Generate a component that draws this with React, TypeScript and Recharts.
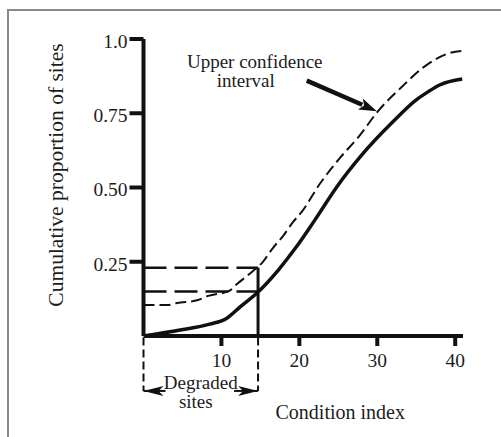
import React from 'react';
import { ComposedChart, Line, XAxis, YAxis, ReferenceLine, Label } from 'recharts';

// ---- data ----
const xTicks = [10, 20, 30, 40];
const yTicks = [0.25, 0.5, 0.75, 1.0];
const yTickLabels = ['0.25', '0.50', '0.75', '1.0'];

const cdfX = [0, 4.7, 8.5, 10.7, 12.4, 14.7, 17.3, 19.5, 22, 24.8, 27.8, 32, 35, 36.5, 38, 40.9];
const cdfY = [0, 0.02, 0.04, 0.06, 0.098, 0.148, 0.222, 0.296, 0.391, 0.502, 0.603, 0.721, 0.795, 0.822, 0.845, 0.865];

const upperX = [0, 3, 4.3, 7, 8.3, 11, 12, 14.2, 15.3, 16.6, 18, 19.2, 20.3, 22.7, 25, 27.8, 30, 33, 36, 39.3, 41];
const upperY = [0.104, 0.104, 0.111, 0.121, 0.135, 0.152, 0.175, 0.222, 0.249, 0.296, 0.34, 0.384, 0.418, 0.515, 0.593, 0.677, 0.754, 0.835, 0.906, 0.953, 0.96];

const threshold = 14.7;
const cdfAtThreshold = 0.15;
const upperAtThreshold = 0.23;
const bracketDepth = -0.185;

const arrowFrom = { x: 20.95, y: 0.86 };
const arrowTo = { x: 29.95, y: 0.757 };

const xLabel = 'Condition index';
const yLabel = 'Cumulative proportion of sites';
const noteLines = ['Upper confidence', 'interval'];
const bracketLines = ['Degraded', 'sites'];

const cdfData = cdfX.map((x, i) => ({ x, y: cdfY[i] }));
const upperData = upperX.map((x, i) => ({ x, y: upperY[i] }));

const FONT = '"Liberation Serif", "Times New Roman", Times, serif';
const INK = '#111';
const TEXT = '#1c1c1c';

const AnnotationArrow = (props: any) => {
  const { x1, y1, x2, y2 } = props;
  const dx = x2 - x1;
  const dy = y2 - y1;
  const len = Math.sqrt(dx * dx + dy * dy);
  const ux = dx / len;
  const uy = dy / len;
  const hl = 18;
  const hw = 6;
  const bx = x2 - ux * hl;
  const by = y2 - uy * hl;
  const px = -uy;
  const py = ux;
  return (
    <g>
      <line x1={x1} y1={y1} x2={bx + ux * 2} y2={by + uy * 2} stroke={INK} strokeWidth={4.5} />
      <polygon
        points={`${x2},${y2} ${bx + px * hw},${by + py * hw} ${bx + ux * 4},${by + uy * 4} ${bx - px * hw},${by - py * hw}`}
        fill={INK}
      />
      <text x={x1 - 52} y={y1 - 12.7} textAnchor="middle" fontFamily={FONT} fontSize={19} fill={TEXT}>
        {noteLines[0]}
      </text>
      <text x={x1 - 61} y={y1 + 6.3} textAnchor="middle" fontFamily={FONT} fontSize={19} fill={TEXT}>
        {noteLines[1]}
      </text>
    </g>
  );
};

const BracketArrows = (props: any) => {
  const { x1, y1, x2 } = props;
  const y = y1;
  const hl = 20;
  const hw = 5;
  const cx = (x1 + x2) / 2;
  return (
    <g>
      <line x1={x1} y1={y} x2={x1 + hl + 2} y2={y} stroke={INK} strokeWidth={2} />
      <polygon points={`${x1},${y} ${x1 + hl},${y - hw} ${x1 + hl - 5},${y} ${x1 + hl},${y + hw}`} fill={INK} />
      <line x1={x2 - hl - 4} y1={y} x2={x2} y2={y} stroke={INK} strokeWidth={2} />
      <polygon points={`${x2},${y} ${x2 - hl},${y - hw} ${x2 - hl + 5},${y} ${x2 - hl},${y + hw}`} fill={INK} />
      <text x={cx} y={y - 2} textAnchor="middle" fontFamily={FONT} fontSize={19} fill={TEXT}>
        {bracketLines[0]}
      </text>
      <text x={cx - 5} y={y + 17} textAnchor="middle" fontFamily={FONT} fontSize={19} fill={TEXT}>
        {bracketLines[1]}
      </text>
    </g>
  );
};

const YLabelContent = (props: any) => {
  const { viewBox } = props;
  const x = viewBox.x + 63;
  const y = 175;
  return (
    <text
      x={x}
      y={y}
      transform={`rotate(-90, ${x}, ${y})`}
      textAnchor="middle"
      fontFamily={FONT}
      fontSize={21.5}
      fill={TEXT}
    >
      {yLabel}
    </text>
  );
};

const XLabelContent = (props: any) => {
  const { viewBox } = props;
  const x = viewBox.x + viewBox.width / 2 + 37;
  const y = viewBox.y + 83;
  return (
    <text x={x} y={y} textAnchor="middle" fontFamily={FONT} fontSize={20} fill={TEXT}>
      {xLabel}
    </text>
  );
};

export default function App() {
  return (
    <div style={{ position: 'absolute', left: 0, top: 0, width: 501, height: 437, background: '#fff' }}>
      <div
        style={{
          position: 'absolute',
          left: 7,
          top: 9,
          width: 494,
          height: 428,
          borderTop: '2px solid #8a8a8a',
          borderLeft: '2px solid #8a8a8a',
          boxSizing: 'border-box',
        }}
      />
      <div style={{ position: 'absolute', left: 0, top: 0 }}>
        <ComposedChart width={501} height={437} margin={{ top: 39, right: 38, left: 0, bottom: 0 }}>
          <XAxis
            type="number"
            dataKey="x"
            domain={[0, 41]}
            ticks={xTicks}
            height={101}
            tickSize={10}
            tickMargin={7}
            axisLine={{ stroke: INK, strokeWidth: 4 }}
            tickLine={{ stroke: INK, strokeWidth: 4 }}
            tick={{ fill: TEXT, fontFamily: FONT, fontSize: 19.5 }}
            allowDataOverflow
          >
            <Label content={<XLabelContent />} />
          </XAxis>
          <YAxis
            type="number"
            dataKey="y"
            domain={[0, 1]}
            ticks={yTicks}
            tickFormatter={(v: number) => yTickLabels[yTicks.indexOf(v)]}
            width={143.5}
            tickSize={14}
            tickMargin={2}
            axisLine={{ stroke: INK, strokeWidth: 4 }}
            tickLine={{ stroke: INK, strokeWidth: 4 }}
            tick={{ fill: TEXT, fontFamily: FONT, fontSize: 19.5, dy: 2 }}
            allowDataOverflow
          >
            <Label content={<YLabelContent />} />
          </YAxis>

          <ReferenceLine
            segment={[{ x: 0, y: upperAtThreshold }, { x: threshold, y: upperAtThreshold }]}
            stroke={INK}
            strokeWidth={2.5}
            strokeDasharray="23 8"
            ifOverflow="visible"
          />
          <ReferenceLine
            segment={[{ x: 0, y: cdfAtThreshold }, { x: threshold, y: cdfAtThreshold }]}
            stroke={INK}
            strokeWidth={2.5}
            strokeDasharray="23 8"
            ifOverflow="visible"
          />
          <ReferenceLine
            segment={[{ x: threshold, y: 0 }, { x: threshold, y: upperAtThreshold }]}
            stroke={INK}
            strokeWidth={3}
            ifOverflow="visible"
          />
          <ReferenceLine
            segment={[{ x: 0, y: -0.005 }, { x: 0, y: bracketDepth }]}
            stroke={INK}
            strokeWidth={2}
            strokeDasharray="8 4"
            ifOverflow="visible"
          />
          <ReferenceLine
            segment={[{ x: threshold, y: -0.005 }, { x: threshold, y: bracketDepth }]}
            stroke={INK}
            strokeWidth={2}
            strokeDasharray="8 4"
            ifOverflow="visible"
          />
          <ReferenceLine
            segment={[{ x: 0, y: bracketDepth }, { x: threshold, y: bracketDepth }]}
            ifOverflow="visible"
            shape={<BracketArrows />}
          />

          <Line
            data={upperData}
            dataKey="y"
            type="monotone"
            stroke={INK}
            strokeWidth={2}
            strokeDasharray="11 5"
            dot={false}
            activeDot={false}
            isAnimationActive={false}
          />
          <Line
            data={cdfData}
            dataKey="y"
            type="monotone"
            stroke={INK}
            strokeWidth={3.5}
            dot={false}
            activeDot={false}
            isAnimationActive={false}
          />

          <ReferenceLine
            segment={[arrowFrom, arrowTo]}
            ifOverflow="visible"
            shape={<AnnotationArrow />}
          />
        </ComposedChart>
      </div>
    </div>
  );
}
